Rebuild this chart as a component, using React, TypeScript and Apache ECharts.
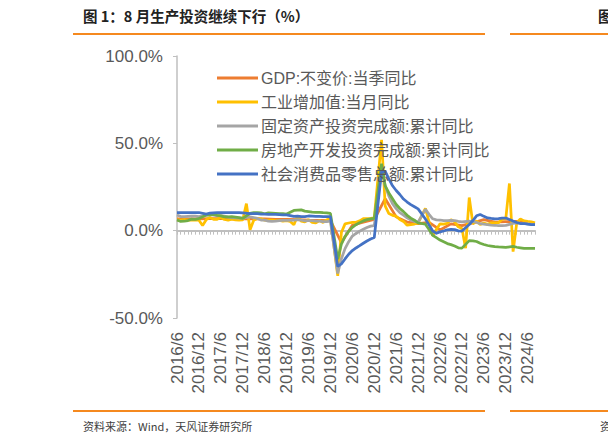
import React, { useEffect, useRef } from "react";
import * as echarts from "echarts";

const seriesNames = [
  "GDP:不变价:当季同比",
  "工业增加值:当月同比",
  "固定资产投资完成额:累计同比",
  "房地产开发投资完成额:累计同比",
  "社会消费品零售总额:累计同比",
];

// Monthly categories 2016/6 .. 2024/8
const categories: string[] = [];
for (let y = 2016; y <= 2024; y++) {
  for (let m = 1; m <= 12; m++) {
    if (y === 2016 && m < 6) continue;
    if (y === 2024 && m > 8) continue;
    categories.push(`${y}/${m}`);
  }
}

const gdp = [
  6.7, null, null, 6.7, null, null, 6.8,
  null, null, 6.9, null, null, 6.9, null, null, 6.8, null, null, 6.8,
  null, null, 6.8, null, null, 6.7, null, null, 6.5, null, null, 6.4,
  null, null, 6.3, null, null, 6.0, null, null, 5.9, null, null, 5.8,
  null, null, -6.9, null, null, 3.1, null, null, 4.8, null, null, 6.4,
  null, null, 18.3, null, null, 7.9, null, null, 4.9, null, null, 4.0,
  null, null, 4.8, null, null, 0.4, null, null, 3.9, null, null, 2.9,
  null, null, 4.5, null, null, 6.3, null, null, 4.9, null, null, 5.2,
  null, null, 5.3, null, null, 4.7, null, null,
];

const industry = [
  6.2, 6.0, 6.3, 6.1, 6.1, 6.2, 6.0,
  3.0, 6.3, 7.6, 6.5, 6.5, 7.6, 6.4, 6.0, 6.6, 6.2, 6.1, 6.2,
  15.5, 0.5, 6.0, 7.0, 6.8, 6.0, 6.0, 6.1, 5.8, 5.9, 5.4, 5.7,
  5.3, 3.4, 8.5, 5.4, 5.0, 6.3, 4.8, 4.4, 5.8, 4.7, 6.2, 6.9,
  null, -25.9, -1.1, 3.9, 4.4, 4.8, 4.8, 5.6, 6.9, 6.9, 7.0, 7.3,
  null, 52.0, 14.1, 9.8, 8.8, 8.3, 6.4, 5.3, 3.1, 3.5, 3.8, 4.3,
  null, 12.8, 5.0, -2.9, 0.7, 3.9, 3.8, 4.2, 6.3, 5.0, 2.2, 1.3,
  -10.0, 19.0, 3.9, 5.6, 3.5, 4.4, 3.7, 4.5, 4.5, 4.6, 6.6, 6.8,
  27.0, -12.0, 4.5, 6.7, 5.6, 5.3, 5.1, 4.5,
];

const fai = [
  9.0, 8.1, 8.1, 8.2, 8.3, 8.3, 8.1,
  null, 8.9, 9.2, 8.9, 8.6, 8.6, 8.3, 7.8, 7.5, 7.3, 7.2, 7.2,
  null, 7.9, 7.5, 7.0, 6.1, 6.0, 5.5, 5.3, 5.4, 5.7, 5.9, 5.9,
  null, 6.1, 6.3, 6.1, 5.6, 5.8, 5.7, 5.5, 5.4, 5.2, 5.2, 5.4,
  null, -24.5, -16.1, -10.3, -6.3, -3.1, -1.6, -0.3, 0.8, 1.8, 2.6, 2.9,
  null, 35.0, 25.6, 19.9, 15.4, 12.6, 10.3, 8.9, 7.3, 6.1, 5.2, 4.9,
  null, 12.2, 9.3, 6.8, 6.2, 6.1, 5.7, 5.8, 5.9, 5.8, 5.3, 5.1,
  null, 5.5, 5.1, 4.7, 4.0, 3.8, 3.4, 3.2, 3.1, 2.9, 2.9, 3.0,
  null, 4.2, 4.5, 4.2, 4.0, 3.9, 3.6, 3.4,
];

const realEstate = [
  6.1, 5.3, 5.4, 5.8, 6.6, 6.5, 6.9,
  null, 8.9, 9.1, 9.3, 8.8, 8.5, 7.9, 7.9, 8.1, 7.8, 7.5, 7.0,
  null, 9.9, 10.4, 10.3, 10.2, 9.7, 10.2, 10.1, 9.9, 9.7, 9.7, 9.5,
  null, 11.6, 11.8, 11.9, 11.2, 10.9, 10.6, 10.5, 10.5, 10.3, 10.2, 9.9,
  null, -16.3, -7.7, -3.3, -0.3, 1.9, 3.4, 4.6, 5.6, 6.3, 6.8, 7.0,
  null, 38.3, 25.6, 21.6, 18.3, 15.0, 12.7, 10.9, 8.8, 7.2, 6.0, 4.4,
  null, 3.7, 0.7, -2.7, -4.0, -5.4, -6.4, -7.4, -8.0, -8.8, -9.8, -10.0,
  null, -5.7, -5.8, -6.2, -7.2, -7.9, -8.5, -8.8, -9.1, -9.3, -9.4, -9.6,
  null, -9.0, -9.5, -9.8, -10.1, -10.1, -10.2, -10.2,
];

const retail = [
  10.3, 10.3, 10.3, 10.4, 10.3, 10.4, 10.4,
  null, 9.5, 10.0, 10.2, 10.3, 10.4, 10.4, 10.4, 10.4, 10.3, 10.3, 10.2,
  null, 9.7, 9.8, 9.7, 9.5, 9.4, 9.3, 9.3, 9.3, 9.2, 9.1, 9.0,
  null, 8.2, 8.3, 8.0, 8.1, 8.4, 8.3, 8.2, 8.2, 8.1, 8.0, 8.0,
  null, -20.5, -19.0, -16.2, -13.5, -11.4, -9.9, -8.6, -7.2, -5.9, -4.8, -3.9,
  null, 33.8, 33.9, 29.6, 25.7, 23.0, 20.7, 18.1, 16.4, 14.9, 13.7, 12.5,
  null, 6.7, 3.3, -0.2, -1.5, -0.7, -0.2, 0.5, 0.7, 0.6, -0.1, -0.2,
  null, 3.5, 5.8, 8.5, 9.3, 8.2, 7.3, 7.0, 6.8, 6.9, 7.2, 7.2,
  null, 5.5, 4.7, 4.1, 4.1, 3.7, 3.5, 3.4,
];

const seriesData = [gdp, industry, fai, realEstate, retail];
const colors = ["#ED7D31", "#FFC000", "#A5A5A5", "#70AD47", "#4472C4"];

const FONT = "'Liberation Sans', 'Noto Sans CJK SC', sans-serif";
const CJK = "'Noto Sans CJK SC', sans-serif";

export default function App() {
  const ref = useRef<HTMLDivElement>(null);
  useEffect(() => {
    if (!ref.current) return;
    const chart = echarts.init(ref.current, undefined, { renderer: "svg" });
    const option: any = {
      animation: false,
      backgroundColor: "#ffffff",
      color: colors,
      grid: { left: 177, right: 73, top: 56, bottom: 128, containLabel: false },
      legend: {
        orient: "vertical",
        left: 212,
        top: 63,
        icon: "rect",
        itemWidth: 41,
        itemHeight: 3,
        itemGap: 4,
        textStyle: { color: "#595959", fontSize: 16, fontFamily: FONT, lineHeight: 20, padding: [0, 0, 0, -2] },
        data: seriesNames,
      },
      xAxis: [
        {
          type: "category",
          data: categories,
          boundaryGap: false,
          position: "bottom",
          axisLine: { show: false, onZero: false },
          axisTick: { show: false },
          axisLabel: {
            interval: 5,
            rotate: 90,
            color: "#595959",
            fontSize: 17,
            fontFamily: FONT,
            margin: 14,
          },
          splitLine: { show: false },
        },
        {
          type: "category",
          data: categories,
          boundaryGap: false,
          position: "bottom",
          axisLine: { show: true, onZero: true, lineStyle: { color: "#BFBFBF", width: 2 } },
          axisTick: { show: true, interval: 0, length: 4, inside: false, lineStyle: { color: "#BFBFBF", width: 1 } },
          axisLabel: { show: false },
          splitLine: { show: false },
        },
      ],
      yAxis: {
        type: "value",
        min: -50,
        max: 100,
        interval: 50,
        axisLine: { show: true, lineStyle: { color: "#BFBFBF", width: 1.5 } },
        axisTick: { show: true, length: 4, lineStyle: { color: "#BFBFBF" } },
        splitLine: { show: false },
        axisLabel: {
          color: "#595959",
          fontSize: 17,
          fontFamily: FONT,
          margin: 14,
          formatter: (v: number) => `${v.toFixed(1)}%`,
        },
      },
      series: seriesNames.map((name, i) => ({
        name,
        type: "line",
        xAxisIndex: 0,
        data: seriesData[i],
        symbol: "none",
        connectNulls: true,
        lineStyle: { width: 2.75, color: colors[i] },
        itemStyle: { color: colors[i] },
      })),
      graphic: [
        {
          type: "text",
          left: 83,
          top: 8,
          style: { text: "图 1：8 月生产投资继续下行（%）", font: `bold 14.5px ${CJK}`, fill: "#222222" },
        },
        {
          type: "text",
          left: 598,
          top: 8,
          style: { text: "图", font: `bold 14.5px ${CJK}`, fill: "#222222" },
        },
        { type: "line", shape: { x1: 73, y1: 34, x2: 485, y2: 34 }, style: { stroke: "#F5891F", lineWidth: 2 } },
        { type: "line", shape: { x1: 510, y1: 34, x2: 608, y2: 34 }, style: { stroke: "#F5891F", lineWidth: 2 } },
        { type: "line", shape: { x1: 73, y1: 411, x2: 485, y2: 411 }, style: { stroke: "#F5891F", lineWidth: 2 } },
        { type: "line", shape: { x1: 510, y1: 411, x2: 608, y2: 411 }, style: { stroke: "#F5891F", lineWidth: 2 } },
        {
          type: "text",
          left: 83,
          top: 420,
          style: { text: "资料来源：Wind，天风证券研究所", font: `11px ${CJK}`, fill: "#404040" },
        },
        {
          type: "text",
          left: 600,
          top: 420,
          style: { text: "资", font: `11px ${CJK}`, fill: "#404040" },
        },
      ],
    };
    chart.setOption(option);
    return () => chart.dispose();
  }, []);
  return (
    <div
      ref={ref}
      style={{ position: "fixed", left: 0, top: 0, width: 608, height: 446 }}
    />
  );
}
